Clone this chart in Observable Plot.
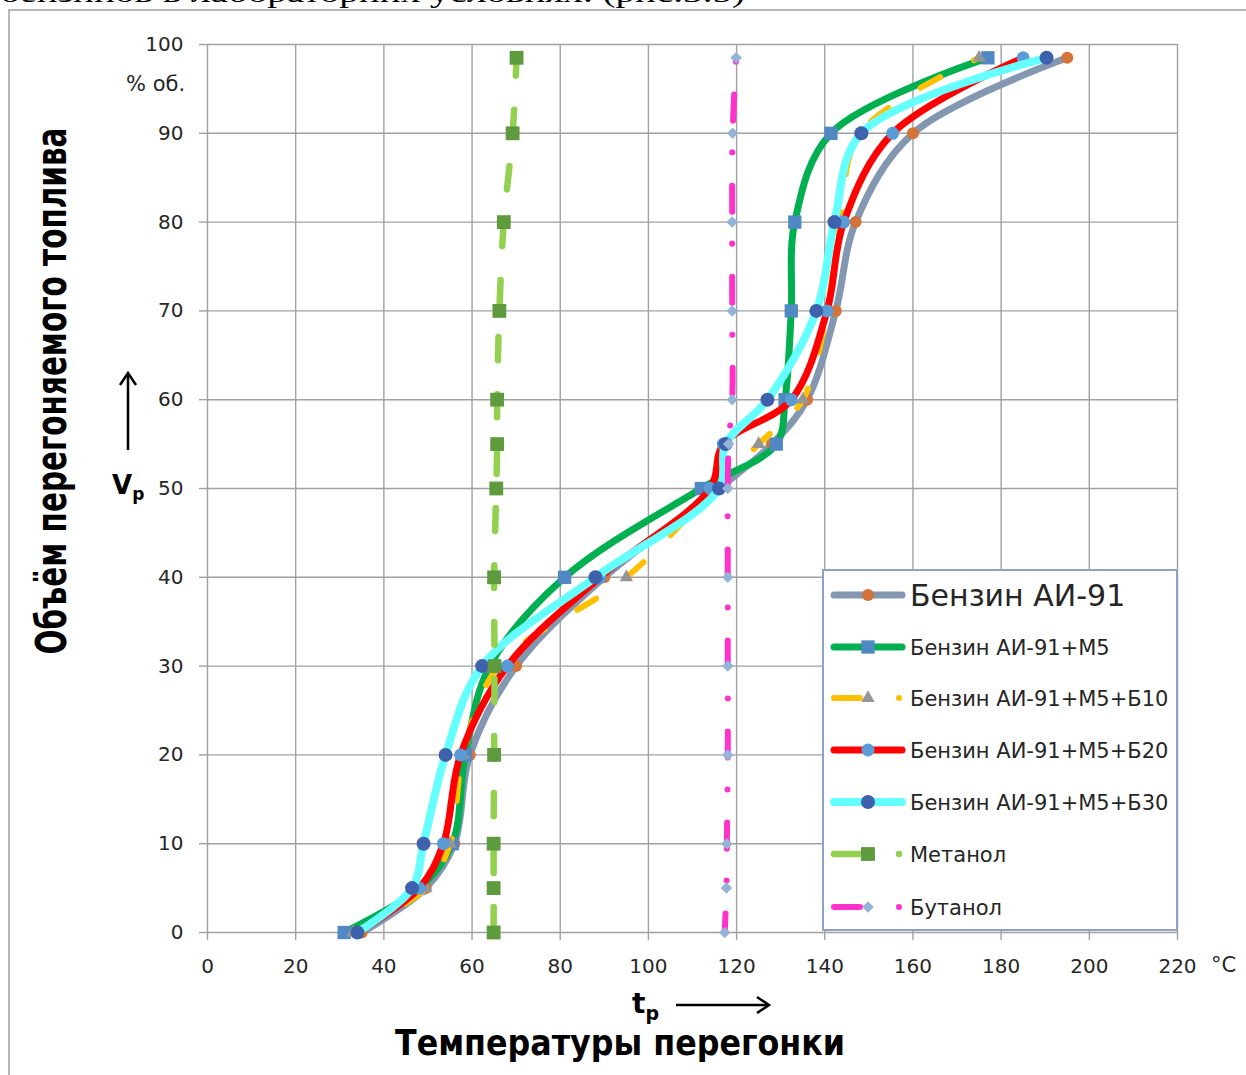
<!DOCTYPE html>
<html><head><meta charset="utf-8">
<script src="https://cdn.jsdelivr.net/npm/d3@7"></script>
<script src="https://cdn.jsdelivr.net/npm/@observablehq/plot@0.6"></script>
<style>
html,body{margin:0;padding:0;background:#fff;}
#wrap{position:relative;width:1246px;height:1075px;overflow:hidden;background:#fff;}
#wrap > svg{position:absolute;left:0;top:0;}
</style></head><body><div id="wrap"></div>
<script>
// ---- data ----
const volume = [0, 5, 10, 20, 30, 40, 50, 55, 60, 70, 80, 90, 98.5];
const tAI91      = [35, 49.5, 56, 59.5, 70, 90, 116, 128, 136, 142.5, 147, 160, 195];
const tAI91M5    = [31, 48, 55.5, 58.5, 64, 81, 112, 129, 131, 132.4, 133.2, 141.4, 177];
const tAI91M5B10 = [33, 49.5, 55, 58, 66, 95, 115, 125, 135, 140.5, 143.5, 148, 175];
const tAI91M5B20 = [34, 48, 53.5, 57.4, 68, 89, 114, 117, 132.4, 140.5, 144.3, 155.4, 185];
const tAI91M5B30 = [34, 46.4, 49, 54, 62.3, 88, 116, 117.5, 127, 138.1, 142.2, 148.3, 190.3];
const tMethanol  = [64.9, 64.9, 64.9, 65, 65.1, 65, 65.5, 65.7, 65.7, 66.2, 67.2, 69.2, 70.1];
const tButanol   = [117.3, 117.7, 117.8, 118, 118, 118, 118, 118.2, 119, 119, 119, 119.1, 119.9];
const seriesNames = ["Бензин АИ-91", "Бензин АИ-91+М5", "Бензин АИ-91+М5+Б10", "Бензин АИ-91+М5+Б20", "Бензин АИ-91+М5+Б30", "Метанол", "Бутанол"];
const seriesTemps = [tAI91, tAI91M5, tAI91M5B10, tAI91M5B20, tAI91M5B30, tMethanol, tButanol];
const xTicks = [0, 20, 40, 60, 80, 100, 120, 140, 160, 180, 200, 220];
const yTicks = [0, 10, 20, 30, 40, 50, 60, 70, 80, 90, 100];

// ---- styles ----
const styles = [
  {stroke: "#8497b0", width: 7,   dash: null, offset: 0, symbol: "circle",   fill: "#d4733a", r: 6},
  {stroke: "#00b050", width: 7,   dash: null, offset: 0, symbol: "square",   fill: "#4f88c2", r: 7.5},
  {stroke: "#ffc000", width: 6,   dash: "22,38", offset: 0, symbol: "triangle", fill: "#959595", r: 5},
  {stroke: "#ff0000", width: 7,   dash: null, offset: 0, symbol: "circle",   fill: "#5b9bd5", r: 6.5},
  {stroke: "#66ffff", width: 8,   dash: null, offset: 0, symbol: "circle",   fill: "#3d61ac", r: 7},
  {stroke: "#92d050", width: 6.5, dash: "23,34", offset: 54.5, symbol: "square", fill: "#5e9a3e", r: 7.8},
  {stroke: "#ff33cc", width: 6,   dash: "26,33,0.01,32", offset: 7, symbol: "diamond2", fill: "#95b3d7", r: 5.2}
];

const W = 1246, H = 1075;
const gridColor = "#a0a0a0";
const marks = [
  Plot.gridX({ticks: xTicks, stroke: gridColor, strokeOpacity: 1, strokeWidth: 1.4}),
  Plot.gridY({ticks: yTicks, stroke: gridColor, strokeOpacity: 1, strokeWidth: 1.4}),
  Plot.axisX({ticks: xTicks, tickSize: 8, tickPadding: 18, fontSize: 20, stroke: gridColor, strokeWidth: 1.4, fill: "#262626", label: null, tickFormat: d => String(d)}),
  Plot.axisY({ticks: yTicks, tickSize: 8, tickPadding: 16, fontSize: 20, stroke: gridColor, strokeWidth: 1.4, fill: "#262626", label: null, tickFormat: d => String(d)})
];
seriesTemps.forEach((temps, i) => {
  const s = styles[i];
  const data = volume.map((v, j) => ({t: temps[j], v}));
  const lineOpts = {x: "t", y: "v", stroke: s.stroke, strokeWidth: s.width, curve: "catmull-rom", strokeLinecap: "round", strokeLinejoin: "round"};
  if (s.dash) { lineOpts.strokeDasharray = s.dash; lineOpts.strokeDashoffset = s.offset; }
  marks.push(Plot.line(data, lineOpts));
  marks.push(Plot.dot(data, {x: "t", y: "v", symbol: s.symbol, r: s.r, fill: s.fill, stroke: "none"}));
});

const chart = Plot.plot({
  width: W, height: H,
  marginLeft: 207, marginRight: 69, marginTop: 44, marginBottom: 143,
  x: {domain: [0, 220]},
  y: {domain: [0, 100]},
  style: {fontFamily: "DejaVu Sans", fontSize: "20px", background: "#fff", color: "#262626"},
  marks
});
const wrap = document.getElementById("wrap");
wrap.appendChild(chart);

// ---- overlay: frame, titles, legend ----
const ov = d3.create("svg").attr("width", W).attr("height", H).attr("viewBox", `0 0 ${W} ${H}`);
ov.append("path").attr("d", `M9,${H} V10 H${W}`).attr("fill", "none").attr("stroke", "#a0a0a0").attr("stroke-width", 1.5);

// clipped caption from the page above the chart
ov.append("text").attr("x", 0).attr("y", 2).attr("font-family", "Liberation Serif").attr("font-size", 28)
  .attr("textLength", 745).attr("lengthAdjust", "spacingAndGlyphs").attr("fill", "#000")
  .text("бензинов в лабораторних условиях.  (рис.3.5)");

// y title (tall, narrow glyphs: small font stretched across its height)
ov.append("text").attr("transform", "translate(66,391) rotate(-90) scale(1,1.55)").attr("text-anchor", "middle")
  .attr("font-family", "DejaVu Sans").attr("font-weight", "bold").attr("font-size", 28)
  .attr("textLength", 527).attr("lengthAdjust", "spacingAndGlyphs").attr("fill", "#000")
  .text("Объём перегоняемого топлива");

// up arrow + V_p
ov.append("line").attr("x1", 128).attr("x2", 128).attr("y1", 450).attr("y2", 374).attr("stroke", "#000").attr("stroke-width", 2.5);
ov.append("path").attr("d", "M120,385 L128,373 L136,385").attr("fill", "none").attr("stroke", "#000").attr("stroke-width", 2.5);
const vp = ov.append("text").attr("x", 112).attr("y", 494).attr("font-family", "DejaVu Sans").attr("font-weight", "bold").attr("font-size", 26).attr("fill", "#000");
vp.append("tspan").text("V");
vp.append("tspan").attr("font-size", 17).attr("dy", 6).text("p");

// % об.
ov.append("text").attr("x", 126).attr("y", 91).attr("font-family", "DejaVu Sans").attr("font-size", 21).attr("fill", "#262626").text("% об.");
// °C
ov.append("text").attr("x", 1211).attr("y", 972).attr("font-family", "DejaVu Sans").attr("font-size", 21).attr("fill", "#262626").text("°C");

// t_p arrow
const tp = ov.append("text").attr("x", 632).attr("y", 1013).attr("font-family", "DejaVu Sans").attr("font-weight", "bold").attr("font-size", 28).attr("fill", "#000");
tp.append("tspan").text("t");
tp.append("tspan").attr("font-size", 19).attr("dy", 7).text("p");
ov.append("line").attr("x1", 676).attr("x2", 768).attr("y1", 1005).attr("y2", 1005).attr("stroke", "#000").attr("stroke-width", 2.5);
ov.append("path").attr("d", "M757,997 L769,1005 L757,1013").attr("fill", "none").attr("stroke", "#000").attr("stroke-width", 2.5);

// x title
ov.append("text").attr("x", 395).attr("y", 1055).attr("font-family", "DejaVu Sans").attr("font-weight", "bold").attr("font-size", 36)
  .attr("textLength", 450).attr("lengthAdjust", "spacingAndGlyphs").attr("fill", "#000")
  .text("Температуры перегонки");

// legend
const lg = ov.append("g");
lg.append("rect").attr("x", 823).attr("y", 570).attr("width", 354).attr("height", 360)
  .attr("fill", "#fff").attr("stroke", "#8ea3c2").attr("stroke-width", 2);
const legendY = [595, 647, 698, 750, 802, 854, 907];
const symMap = {circle: d3.symbolCircle, square: d3.symbolSquare, triangle: d3.symbolTriangle, diamond2: d3.symbolDiamond2};
seriesNames.forEach((name, i) => {
  const s = styles[i], y = legendY[i];
  if (s.dash) {
    lg.append("line").attr("x1", 834).attr("x2", 860).attr("y1", y).attr("y2", y)
      .attr("stroke", s.stroke).attr("stroke-width", s.width).attr("stroke-linecap", "round");
    lg.append("circle").attr("cx", 899).attr("cy", y).attr("r", s.width / 2).attr("fill", s.stroke);
  } else {
    lg.append("line").attr("x1", 834).attr("x2", 902).attr("y1", y).attr("y2", y)
      .attr("stroke", s.stroke).attr("stroke-width", s.width).attr("stroke-linecap", "round");
  }
  lg.append("path").attr("transform", `translate(868,${y})`)
    .attr("d", d3.symbol(symMap[s.symbol], Math.PI * s.r * s.r)()).attr("fill", s.fill);
  lg.append("text").attr("x", 910).attr("y", y).attr("dy", "0.36em")
    .attr("font-family", "DejaVu Sans").attr("font-size", i === 0 ? 30 : 21).attr("fill", "#262626")
    .text(name);
});

wrap.appendChild(ov.node());
</script>
</body></html>
